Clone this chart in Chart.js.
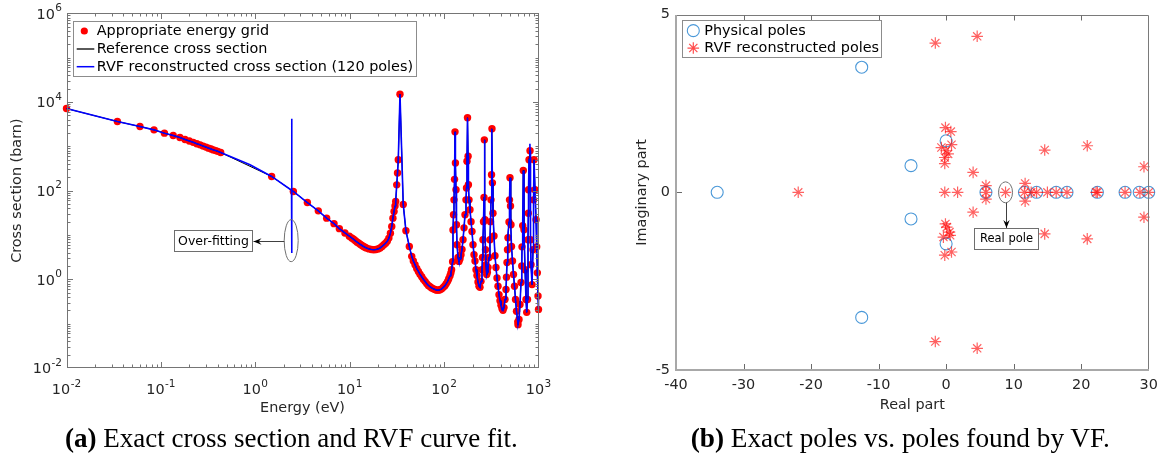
<!DOCTYPE html>
<html>
<head>
<meta charset="utf-8">
<title>Cross section fit and poles</title>
<script src="https://cdn.jsdelivr.net/npm/chart.js@4.4.1/dist/chart.umd.min.js"></script>
<style>
  html, body { margin:0; padding:0; background:#fff; }
  body { width:1168px; height:456px; position:relative; overflow:hidden; }
  canvas { position:absolute; top:0; }
  #cA { left:0; }
  #cB { left:590px; }
  .cap { position:absolute; top:428px; font-family:"Liberation Serif","Times New Roman",serif; color:#000; white-space:nowrap; line-height:1; }
</style>
</head>
<body>
<canvas id="cA" width="580" height="425"></canvas>
<canvas id="cB" width="578" height="425"></canvas>
<div class="cap" id="capA"><b>(a)</b> Exact cross section and RVF curve fit.</div>
<div class="cap" id="capB"><b>(b)</b> Exact poles vs. poles found by VF.</div>
<script>
// ================= DATA: panel (a) =================
// [energy (eV), cross section (barn)] for the appropriate energy grid
const gridPoints = [
  [0.01,7100],[0.0346,3630],[0.060,2790],[0.0845,2350],[0.109,1980],[0.135,1750],[0.159,1580],
  [0.18,1430],[0.20,1320],[0.22,1230],[0.24,1140],[0.26,1080],[0.28,1010],[0.30,960],[0.32,910],
  [0.34,870],[0.36,830],[0.38,800],[0.40,770],[0.43,724],
  [1.49,209],[2.53,96],[3.56,54],[4.65,35],[5.7,24],[6.82,18],[7.77,13.9],[8.9,11.1],[9.9,9.4],
  [10.5,8.6],[11,8.0],[11.5,7.4],[12,6.9],[12.5,6.5],[13,6.1],[13.5,5.8],[14,5.5],[14.5,5.3],[15,5.1],
  [16,4.85],[17,4.7],[18,4.65],[19,4.7],[20,4.85],
  [21,5.1],[22,5.5],[23,6.0],[24,6.5],[25,7.2],[26,8.5],[27,11],[27.9,15.6],[28.7,24],[29.5,34],
  [30.2,45],[30.7,57],[31.5,135],[32.1,250],[32.7,497],[34.1,15000],
  [36.9,49],[39.4,12.5],[42.8,5.5],[45.4,3.3],[47.2,2.6],[49.2,2.14],[51.3,1.75],[53.4,1.51],[55.5,1.3],
  [57.9,1.14],[60.3,1.0],[62.8,0.9],[65.4,0.8],[68.1,0.73],[71,0.68],[73.9,0.64],[77,0.61],[80.1,0.59],
  [83.5,0.57],[86.9,0.57],[90.5,0.58],[94.4,0.61],[98,0.66],[102,0.72],[105.5,0.8],[109,0.9],
  [112,1.03],[115.5,1.2],[118,1.4],[120,1.65],[123,2.5],[124.2,13],[125.8,28.6],[127.3,62],[129,180],[130.5,2120],
  [131.8,420],[133.7,105],[135.3,17],[137,6.0],[140.4,3.1],[143.8,2.54],[147.4,2.9],[151,3.6],[154.7,4.7],
  [158.6,7.8],[162.5,14.5],[166.5,28.6],[170.6,62],[172.7,115],[174.8,460],[177,4400],
  [179.5,600],[181,136],[183.6,62],[188,37],[193,20],[197.5,12],[202.4,6.05],[207.4,3.6],[212.5,2.6],
  [217.8,1.65],[223,1.22],[228.7,0.87],[234.3,0.7],[240,0.66],[246,0.9],[252,1.65],[255,3.1],
  [258,7.8],[261.5,20],[264.7,70],[267,1400],[271,22],[274.5,4.67],[278,2.14],[282.6,1.28],
  [287,1.45],[291.7,1.85],[299,3.1],[306,7.8],[310,20],[314,62],[318,228],[321.6,2480],
  [325,150],[329.6,31],[337.7,9.5],[346,3.4],[354.6,1.85],[363.4,1.07],[372.4,0.7],[381.6,0.45],[391,0.33],
  [400.6,0.26],[410.5,0.22],[420.6,0.2],[431,0.23],[441.7,0.35],[452.6,0.59],[458,1.12],
  [463.8,2.4],[469.5,4.67],[475,8.7],[487,19.6],[493,62],[499,195],
  [505,45],[511.3,17],[517.6,5.5],[530.4,2.6],[543.5,1.28],[557,0.7],[570.7,0.35],[584.8,0.19],[603.6,0.11],
  [606.6,0.095],[621.6,0.124],[636.9,0.27],[652.7,0.85],[665,2.0],[668.8,5.4],[680,16.3],[690,285],
  [702,13.2],[720,1.65],[737,0.35],[750,0.18],[765,0.35],[774,7.8],[780,31],[784,105],[793.5,497],
  [813,792],[823,7.8],[833,2.14],[854,0.76],[875,4.67],[886,62],[896.6,497],
  [918.8,105],[941.5,22],[957,5.4],[972,1.4],[988,0.42],[1000,0.21]
];
// extra vertices of the RVF reconstruction (smooth bend, over-fitting spike, taller peak tip)
const rvfExtraPoints = [[0.88,383],[2.42,102],[2.43,4170],[2.435,3.9],[2.44,101],[811,1140]];
const xTickValuesA = [0.01,0.1,1,10,100,1000];
const xTickLabelsA = [['10','-2'],['10','-1'],['10','0'],['10','1'],['10','2'],['10','3']];
const yTickValuesA = [0.01,1,100,10000,1000000];
const yTickLabelsA = [['10','-2'],['10','0'],['10','2'],['10','4'],['10','6']];
const legendLabelsA = ['Appropriate energy grid','Reference cross section','RVF reconstructed cross section (120 poles)'];

// ================= DATA: panel (b) =================
// [real part, imaginary part]
const physicalPoles = [
  [-33.9,0],[-12.5,3.52],[-12.5,-3.52],[-5.2,0.75],[-5.2,-0.75],[0,1.45],[0,-1.45],
  [5.9,0],[11.6,0],[13.4,0],[16.3,0],[17.9,0],[22.4,0],[26.5,0],[28.6,0],[30.0,0]
];
const rvfPoles = [
  [-21.9,0],[-1.6,4.2],[4.6,4.39],[-1.6,-4.2],[4.6,-4.39],
  [14.6,1.19],[14.6,-1.17],[20.9,1.31],[20.9,-1.31],[29.3,0.72],[29.3,-0.7],
  [4.0,0.56],[4.0,-0.56],
  [-0.1,1.82],[0.7,1.71],[-0.7,1.26],[0.8,1.34],[0,1.17],[0.3,1.08],[-0.2,0.98],[-0.2,0.81],
  [-0.1,-0.89],[0.1,-0.98],[0.5,-1.12],[-0.4,-1.26],[0.6,-1.21],[0.8,-1.68],[-0.2,-1.77],
  [-0.2,0],[1.7,0],[5.9,0],[5.9,0.19],[5.9,-0.19],[8.8,0],
  [11.6,0],[11.7,0.25],[11.7,-0.25],[12.6,0],[13.4,0],[15.0,0],[16.3,0],[17.9,0],
  [22.2,0],[22.4,0],[26.5,0],[28.7,0],[30.0,0]
];
const xTickValuesB = [-40,-30,-20,-10,0,10,20,30];
const xTickLabelsB = ['-40','-30','-20','-10','0','10','20','30'];
const yTickValuesB = [-5,0,5];
const yTickLabelsB = ['-5','0','5'];
const legendLabelsB = ['Physical poles','RVF reconstructed poles'];

// annotation anchors (data coordinates)
const overfitNote = { ellE: 2.40, ellS: 7.45, boxE: 0.3624, text: 'Over-fitting' };
const realPoleNote = { ellRe: 8.8, ellIm: 0, boxIm: -1.29, text: 'Real pole' };

// ================= helpers =================
const FONT = '"DejaVu Sans", sans-serif';
Chart.defaults.font.family = FONT;
Chart.defaults.font.size = 14.4;
Chart.defaults.color = '#262626';

function drawArrow(ctx, x1, y1, x2, y2) {
  ctx.beginPath(); ctx.moveTo(x1, y1); ctx.lineTo(x2, y2);
  ctx.strokeStyle = '#404040'; ctx.lineWidth = 1; ctx.stroke();
  const a = Math.atan2(y2 - y1, x2 - x1), len = 8, hw = 3.2;
  const c = Math.cos(a), s = Math.sin(a);
  ctx.beginPath();
  ctx.moveTo(x2, y2);
  ctx.lineTo(x2 - len * c + hw * s, y2 - len * s - hw * c);
  ctx.lineTo(x2 - len * 0.65 * c, y2 - len * 0.65 * s);
  ctx.lineTo(x2 - len * c - hw * s, y2 - len * s + hw * c);
  ctx.closePath(); ctx.fillStyle = '#000'; ctx.fill();
}
function drawTextBox(ctx, cx, cy, text, fontPx, padX, h) {
  ctx.font = fontPx + 'px ' + FONT;
  const w = ctx.measureText(text).width + 2 * padX;
  const L = Math.round(cx - w / 2) + 0.5, T = Math.round(cy - h / 2) + 0.5;
  ctx.fillStyle = '#fff'; ctx.fillRect(L, T, Math.round(w), h);
  ctx.strokeStyle = '#6e6e6e'; ctx.lineWidth = 1; ctx.strokeRect(L, T, Math.round(w), h);
  ctx.fillStyle = '#000'; ctx.textAlign = 'center'; ctx.textBaseline = 'middle';
  ctx.fillText(text, L + Math.round(w) / 2, T + h / 2 + 0.5);
  return { left: L, right: L + Math.round(w), top: T, bottom: T + h };
}
function drawEllipse(ctx, cx, cy, rx, ry) {
  ctx.beginPath(); ctx.ellipse(cx, cy, rx, ry, 0, 0, Math.PI * 2);
  ctx.strokeStyle = '#707070'; ctx.lineWidth = 1; ctx.stroke();
}
// "10" with a raised exponent; align: 'center' or 'right'; y = baseline of the base
function drawPower(ctx, base, exp, x, y, align) {
  ctx.save();
  ctx.fillStyle = '#262626'; ctx.textAlign = 'left'; ctx.textBaseline = 'alphabetic';
  ctx.font = '14.4px ' + FONT; const wb = ctx.measureText(base).width;
  ctx.font = '10.5px ' + FONT; const we = ctx.measureText(exp).width;
  const total = wb + 0.5 + we;
  const x0 = align === 'right' ? x - total : x - total / 2;
  ctx.font = '14.4px ' + FONT; ctx.fillText(base, x0, y);
  ctx.font = '10.5px ' + FONT; ctx.fillText(exp, x0 + wb + 0.5, y - 7.5);
  ctx.restore();
}

// ================= panel (a) decorations =================
const decoA = {
  id: 'decoA',
  afterDatasetsDraw(chart) {
    const { ctx, chartArea: a, scales: { x, y } } = chart;
    ctx.save();
    const L = Math.round(a.left) + 0.5, R = Math.round(a.right) - 0.5;
    const T = Math.round(a.top) + 0.5, B = Math.round(a.bottom) - 0.5;
    ctx.strokeStyle = '#757575'; ctx.lineWidth = 1;
    ctx.strokeRect(L, T, R - L, B - T);
    ctx.beginPath();
    for (let e = -2; e < 3; e++) for (let m = 1; m <= 9; m++) {
      const v = m * Math.pow(10, e);
      const len = m === 1 ? 5.5 : 3;
      const px = Math.round(x.getPixelForValue(v)) + 0.5;
      if (px < L || px > R + 0.1) continue;
      ctx.moveTo(px, B); ctx.lineTo(px, B - len);
      ctx.moveTo(px, T); ctx.lineTo(px, T + len);
    }
    for (let e = -2; e < 6; e++) for (let m = 1; m <= 9; m++) {
      const v = m * Math.pow(10, e);
      const len = (m === 1 && e % 2 === 0) ? 5.5 : 3;
      const py = Math.round(y.getPixelForValue(v)) + 0.5;
      if (py > B || py < T) continue;
      ctx.moveTo(L, py); ctx.lineTo(L + len, py);
      ctx.moveTo(R, py); ctx.lineTo(R - len, py);
    }
    ctx.stroke();

    // tick labels with superscript exponents
    x.ticks.forEach((t, i) => {
      const lab = xTickLabelsA[i];
      drawPower(ctx, lab[0], lab[1], x.getPixelForValue(t.value), a.bottom + 26, 'center');
    });
    y.ticks.forEach((t, i) => {
      const lab = yTickLabelsA[i];
      drawPower(ctx, lab[0], lab[1], a.left - 4.5, y.getPixelForValue(t.value) + 5.3, 'right');
    });

    // annotation: over-fitting
    const ex = x.getPixelForValue(overfitNote.ellE), ey = y.getPixelForValue(overfitNote.ellS);
    drawEllipse(ctx, ex, ey, 7, 21);
    const box = drawTextBox(ctx, x.getPixelForValue(overfitNote.boxE), ey, overfitNote.text, 12.5, 3.8, 21);
    drawArrow(ctx, ex - 7, Math.round(ey) + 0.5, box.right + 1, Math.round(ey) + 0.5);

    // legend
    const lx = a.left + 6.8, ly = a.top + 7.7;
    ctx.font = '14.4px ' + FONT;
    let tw = 0; legendLabelsA.forEach(t => tw = Math.max(tw, ctx.measureText(t).width));
    const lw = 23.4 + tw + 3, lh = 55;
    ctx.fillStyle = '#fff'; ctx.fillRect(Math.round(lx) + 0.5, Math.round(ly) + 0.5, Math.round(lw), lh);
    ctx.strokeStyle = '#8c8c8c'; ctx.lineWidth = 1; ctx.strokeRect(Math.round(lx) + 0.5, Math.round(ly) + 0.5, Math.round(lw), lh);
    const rows = [ly + 10, ly + 28, ly + 45.7];
    ctx.beginPath(); ctx.arc(lx + 11, rows[0], 3.6, 0, Math.PI * 2); ctx.fillStyle = '#ff0000'; ctx.fill();
    ctx.beginPath(); ctx.moveTo(lx + 3.4, rows[1]); ctx.lineTo(lx + 21, rows[1]); ctx.strokeStyle = '#000'; ctx.lineWidth = 1.3; ctx.stroke();
    ctx.beginPath(); ctx.moveTo(lx + 3.4, rows[2]); ctx.lineTo(lx + 21, rows[2]); ctx.strokeStyle = '#0000ff'; ctx.lineWidth = 1.5; ctx.stroke();
    ctx.fillStyle = '#000'; ctx.textAlign = 'left'; ctx.textBaseline = 'middle';
    legendLabelsA.forEach((t, i) => ctx.fillText(t, lx + 23.4, rows[i] + 0.5));
    ctx.restore();
  }
};

const dotData = gridPoints.map(([x, y]) => ({ x, y }));
const rvfData = gridPoints.concat(rvfExtraPoints).sort((p, q) => p[0] - q[0]).map(([x, y]) => ({ x, y }));

new Chart(document.getElementById('cA'), {
  type: 'scatter',
  data: {
    datasets: [
      { label: legendLabelsA[0], data: dotData, showLine: false, pointRadius: 3.7, pointBackgroundColor: '#ff0000',
        pointBorderWidth: 0, pointBorderColor: '#ff0000', order: 2, clip: false },
      { label: legendLabelsA[1], data: dotData, showLine: true, borderColor: '#000000', borderWidth: 1, pointRadius: 0, order: 1, clip: false },
      { label: legendLabelsA[2], data: rvfData, showLine: true, borderColor: '#0000ff', borderWidth: 1.6, pointRadius: 0, order: 0, clip: false }
    ]
  },
  options: {
    responsive: false, animation: false, events: [],
    layout: { padding: { left: 0, top: 13.3, right: 41.5, bottom: 0 } },
    plugins: { legend: { display: false }, tooltip: { enabled: false } },
    scales: {
      x: {
        type: 'logarithmic', position: 'bottom', min: 0.01, max: 1000,
        grid: { display: false, drawTicks: false }, border: { display: false },
        afterBuildTicks: s => { s.ticks = xTickValuesA.map(v => ({ value: v })); },
        afterFit: s => { s.height = 57; },
        ticks: { display: false, autoSkip: false, maxRotation: 0, callback: (v, i) => xTickLabelsA[i].join('^') },
        title: { display: true, text: 'Energy (eV)', color: '#262626', padding: { top: 0, bottom: 8.3 } }
      },
      y: {
        type: 'logarithmic', position: 'left', min: 0.01, max: 1000000,
        grid: { display: false, drawTicks: false }, border: { display: false },
        afterBuildTicks: s => { s.ticks = yTickValuesA.map(v => ({ value: v })); },
        afterFit: s => { s.width = 66.5; },
        ticks: { display: false, autoSkip: false, callback: (v, i) => yTickLabelsA[i].join('^') },
        title: { display: true, text: 'Cross section (barn)', color: '#262626', padding: { top: 8.3, bottom: 0 } }
      }
    }
  },
  plugins: [decoA]
});

// ================= panel (b) decorations =================
const decoB = {
  id: 'decoB',
  afterDatasetsDraw(chart) {
    const { ctx, chartArea: a, scales: { x, y } } = chart;
    ctx.save();
    const L = Math.round(a.left), R = Math.round(a.right) - 0.5;
    const T = Math.round(a.top) + 0.5, B = Math.round(a.bottom);
    ctx.strokeStyle = '#7a7a7a'; ctx.lineWidth = 1;
    ctx.beginPath(); ctx.moveTo(L, T); ctx.lineTo(R, T); ctx.lineTo(R, B); ctx.stroke();
    ctx.strokeStyle = '#a8a8a8'; ctx.lineWidth = 2;
    ctx.beginPath(); ctx.moveTo(L, T - 0.5); ctx.lineTo(L, B); ctx.lineTo(R + 0.5, B); ctx.stroke();
    ctx.strokeStyle = '#6a6a6a'; ctx.lineWidth = 1;
    ctx.beginPath();
    xTickValuesB.slice(1, -1).forEach(v => {
      const px = Math.round(x.getPixelForValue(v)) + 0.5;
      ctx.moveTo(px, B - 1); ctx.lineTo(px, B - 6);
      ctx.moveTo(px, T); ctx.lineTo(px, T + 5);
    });
    [0].forEach(v => {
      const py = Math.round(y.getPixelForValue(v)) + 0.5;
      ctx.moveTo(L + 1, py); ctx.lineTo(L + 6, py);
      ctx.moveTo(R, py); ctx.lineTo(R - 5, py);
    });
    ctx.stroke();

    // annotation: real pole
    const ex = x.getPixelForValue(realPoleNote.ellRe), ey = y.getPixelForValue(realPoleNote.ellIm);
    drawEllipse(ctx, ex, ey, 7, 10.5);
    const box = drawTextBox(ctx, ex + 0.7, y.getPixelForValue(realPoleNote.boxIm), realPoleNote.text, 11.5, 5.5, 21);
    drawArrow(ctx, Math.round(ex) + 0.5, ey + 10.5, Math.round(ex) + 0.5, box.top - 0.5);

    // legend
    const lx = a.left + 6.3, ly = a.top + 5.7;
    ctx.font = '14.4px ' + FONT;
    let tw = 0; legendLabelsB.forEach(t => tw = Math.max(tw, ctx.measureText(t).width));
    const lw = 22 + tw + 2.5, lh = 37;
    ctx.fillStyle = '#fff'; ctx.fillRect(Math.round(lx) + 0.5, Math.round(ly) + 0.5, Math.round(lw), lh);
    ctx.strokeStyle = '#8c8c8c'; ctx.lineWidth = 1; ctx.strokeRect(Math.round(lx) + 0.5, Math.round(ly) + 0.5, Math.round(lw), lh);
    const rows = [ly + 10.3, ly + 27.7];
    ctx.strokeStyle = '#4a98d8'; ctx.lineWidth = 1.1;
    ctx.beginPath(); ctx.arc(lx + 11, rows[0], 6, 0, Math.PI * 2); ctx.stroke();
    ctx.strokeStyle = 'rgba(255,0,0,0.7)'; ctx.lineWidth = 1.2;
    Chart.helpers.drawPoint(ctx, { pointStyle: 'star', radius: 5.8, borderWidth: 1.2 }, lx + 11, rows[1]);
    ctx.fillStyle = '#000'; ctx.textAlign = 'left'; ctx.textBaseline = 'middle';
    legendLabelsB.forEach((t, i) => ctx.fillText(t, lx + 22, rows[i] + 0.5));
    ctx.restore();
  }
};

new Chart(document.getElementById('cB'), {
  type: 'scatter',
  data: {
    datasets: [
      { label: legendLabelsB[0], data: physicalPoles.map(([x, y]) => ({ x, y })), pointStyle: 'circle', pointRadius: 6,
        pointBorderColor: '#4a98d8', pointBackgroundColor: 'rgba(0,0,0,0)', pointBorderWidth: 1.1, order: 1, clip: false },
      { label: legendLabelsB[1], data: rvfPoles.map(([x, y]) => ({ x, y })), pointStyle: 'star', pointRadius: 5.8,
        pointBorderColor: 'rgba(255,0,0,0.62)', pointBackgroundColor: 'rgba(0,0,0,0)', pointBorderWidth: 1.2, order: 0, clip: false }
    ]
  },
  options: {
    responsive: false, animation: false, events: [],
    layout: { padding: { left: 0, top: 13.3, right: 19.3, bottom: 0 } },
    plugins: { legend: { display: false }, tooltip: { enabled: false } },
    scales: {
      x: {
        type: 'linear', position: 'bottom', min: -40, max: 30,
        grid: { display: false, drawTicks: false }, border: { display: false },
        afterBuildTicks: s => { s.ticks = xTickValuesB.map(v => ({ value: v })); },
        afterFit: s => { s.height = 55; },
        ticks: { autoSkip: false, maxRotation: 0, padding: 6.5, color: '#262626', callback: (v, i) => xTickLabelsB[i] },
        title: { display: true, text: 'Real part', color: '#262626', padding: { top: 0, bottom: 11.3 } }
      },
      y: {
        type: 'linear', position: 'left', min: -5, max: 5,
        grid: { display: false, drawTicks: false }, border: { display: false },
        afterBuildTicks: s => { s.ticks = yTickValuesB.map(v => ({ value: v })); },
        afterFit: s => { s.width = 86; },
        ticks: { autoSkip: false, padding: 6, color: '#262626', callback: (v, i) => yTickLabelsB[i] },
        title: { display: true, text: 'Imaginary part', color: '#262626', padding: { top: 43.8, bottom: 0 } }
      }
    }
  },
  plugins: [decoB]
});

// ================= captions =================
function placeCaption(id, left, width, baseline) {
  const el = document.getElementById(id);
  el.style.fontSize = '20px'; el.style.top = '0px';
  const w = el.getBoundingClientRect().width;
  const fs = 20 * width / w;
  el.style.fontSize = fs + 'px';
  el.style.left = left + 'px';
  let probe = el.querySelector('.probe');
  if (!probe) {
    probe = document.createElement('span'); probe.className = 'probe';
    probe.style.cssText = 'display:inline-block;width:0;height:0;vertical-align:baseline;';
    el.appendChild(probe);
  }
  const bl = probe.getBoundingClientRect().top - el.getBoundingClientRect().top;
  el.style.top = (baseline - bl) + 'px';
}
function placeAll() {
  placeCaption('capA', 65, 453, 446.5);
  placeCaption('capB', 690.7, 419.3, 446.5);
}
placeAll();
if (document.fonts && document.fonts.ready) document.fonts.ready.then(placeAll);
</script>
</body>
</html>
